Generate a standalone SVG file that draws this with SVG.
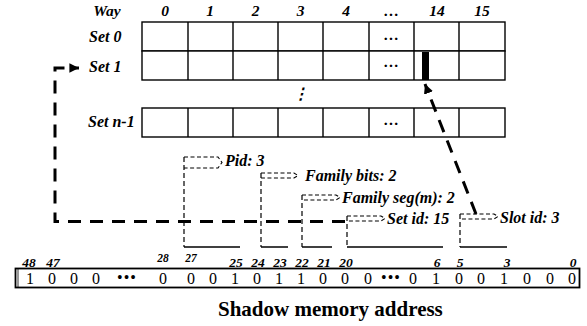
<svg xmlns="http://www.w3.org/2000/svg" width="587" height="326" viewBox="0 0 587 326">
<defs>
<style>
.t{font-family:"Liberation Serif","Times New Roman",serif;font-weight:bold;font-style:italic;fill:#000}
.hd{font-size:15.5px;text-anchor:middle}
.sl{font-size:16px}
.fl{font-size:16px}
.bn{font-size:13.5px;text-anchor:middle}
.bs{font-size:11.5px;text-anchor:middle}
.bit{font-family:"Liberation Serif","Times New Roman",serif;font-size:16px;text-anchor:middle;fill:#000}
.cell{fill:#fff;stroke:#000;stroke-width:1.4}
.grid{stroke:#000;stroke-width:1.4}
.thin{fill:none;stroke:#000;stroke-width:1.1;stroke-dasharray:4 2.5}
.vd{fill:none;stroke:#000;stroke-width:1.2;stroke-dasharray:5 3}
.solid{fill:none;stroke:#000;stroke-width:1.5}
.big{fill:none;stroke:#000;stroke-width:3;stroke-dasharray:13 9}
</style>
<marker id="ah" viewBox="0 0 10 10" refX="10" refY="5" markerWidth="3.2" markerHeight="3.2" orient="auto" markerUnits="strokeWidth">
<path d="M0,0 L10,5 L0,10 z" fill="#000"/>
</marker>
</defs>

<g id="way-header">
<text class="t hd" x="107" y="16">Way</text>
<text class="t hd" x="165" y="16">0</text>
<text class="t hd" x="210" y="16">1</text>
<text class="t hd" x="255.5" y="16">2</text>
<text class="t hd" x="300.5" y="16">3</text>
<text class="t hd" x="346" y="16">4</text>
<text class="t hd" x="391.5" y="16">…</text>
<text class="t hd" x="437" y="16">14</text>
<text class="t hd" x="482" y="16">15</text>
</g>

<g id="set-0">
<text class="t sl" x="89" y="42">Set 0</text>
<rect class="cell" x="142" y="22" width="363" height="29"/>
<path class="grid" d="M188,22V51M233,22V51M278,22V51M323,22V51M369,22V51M414,22V51M459,22V51"/>
<text class="t hd" x="391.5" y="40" font-style="normal">…</text>
</g>

<g id="set-1">
<text class="t sl" x="89" y="72">Set 1</text>
<rect class="cell" x="142" y="51" width="363" height="29"/>
<path class="grid" d="M188,51V80M233,51V80M278,51V80M323,51V80M369,51V80M414,51V80M459,51V80"/>
<text class="t hd" x="391.5" y="67" font-style="normal">…</text>
<rect id="slot" x="422" y="52" width="7" height="28" fill="#000"/>
</g>

<g id="vdots">
<text class="t hd" x="300.5" y="99" font-style="normal" font-family="DejaVu Serif" font-size="13">⋮</text>
</g>

<g id="set-n-1">
<text class="t sl" x="88" y="127">Set n-1</text>
<rect class="cell" x="142" y="108" width="363" height="29"/>
<path class="grid" d="M188,108V137M233,108V137M278,108V137M323,108V137M369,108V137M414,108V137M459,108V137"/>
<text class="t hd" x="391.5" y="125" font-style="normal">…</text>
</g>

<g id="connectors">
<path class="big" d="M345,221.5 H55 V68 H79" marker-end="url(#ah)"/>
<path class="big" d="M476,214 L425,84" marker-end="url(#ah)"/>
</g>

<g id="field-pid">
<path class="vd" d="M184,157V247"/>
<path class="thin" d="M184,157H218L222,162.5L218,168H184"/>
<path class="solid" d="M184,247H240"/>
<text class="t fl" x="225" y="166">Pid: 3</text>
</g>

<g id="field-family-bits">
<path class="vd" d="M261,173V247"/>
<path class="thin" d="M261,173H294L298,175.5L294,178H261"/>
<path class="solid" d="M261,247H288"/>
<text class="t fl" x="305" y="181">Family bits: 2</text>
</g>

<g id="field-family-seg">
<path class="vd" d="M302,195V247"/>
<path class="thin" d="M302,195H336L340,197.5L336,200H302"/>
<path class="solid" d="M302,247H332"/>
<text class="t fl" x="342" y="203">Family seg(m): 2</text>
</g>

<g id="field-set-id">
<path class="vd" d="M347,216V247"/>
<path class="thin" d="M347,216H381L385,218.5L381,221H347"/>
<path class="solid" d="M347,247H443"/>
<text class="t fl" x="387" y="224">Set id: 15</text>
</g>

<g id="field-slot-id">
<path class="vd" d="M460,214V247"/>
<path class="thin" d="M460,214H494L498,216.5L494,219H460"/>
<path class="solid" d="M460,247H507"/>
<text class="t fl" x="500" y="223">Slot id: 3</text>
</g>

<g id="address">
<text class="t bn" x="29" y="267">48</text>
<text class="t bn" x="53" y="267">47</text>
<text class="t bs" x="163" y="262">28</text>
<text class="t bs" x="191" y="262">27</text>
<text class="t bn" x="236" y="267">25</text>
<text class="t bn" x="258" y="267">24</text>
<text class="t bn" x="280" y="267">23</text>
<text class="t bn" x="302" y="267">22</text>
<text class="t bn" x="324" y="267">21</text>
<text class="t bn" x="346" y="267">20</text>
<text class="t bn" x="437" y="267">6</text>
<text class="t bn" x="460" y="267">5</text>
<text class="t bn" x="507" y="267">3</text>
<text class="t bn" x="573" y="267">0</text>
<rect x="15.5" y="268.5" width="564" height="19" fill="none" stroke="#000" stroke-width="1.8"/>
<path d="M18,269V287" stroke="#000" stroke-width="0.8"/>
<text class="bit" x="30" y="283.5">1</text>
<text class="bit" x="52" y="283.5">0</text>
<text class="bit" x="74" y="283.5">0</text>
<text class="bit" x="96" y="283.5">0</text>
<text class="bit" x="127" y="283" font-size="9" letter-spacing="1">•••</text>
<text class="bit" x="163" y="283.5">0</text>
<text class="bit" x="191" y="283.5">0</text>
<text class="bit" x="213" y="283.5">0</text>
<text class="bit" x="235" y="283.5">1</text>
<text class="bit" x="257" y="283.5">0</text>
<text class="bit" x="279" y="283.5">1</text>
<text class="bit" x="301" y="283.5">1</text>
<text class="bit" x="323" y="283.5">0</text>
<text class="bit" x="345" y="283.5">0</text>
<text class="bit" x="368" y="283.5">0</text>
<text class="bit" x="391" y="283" font-size="9" letter-spacing="1">•••</text>
<text class="bit" x="413" y="283.5">0</text>
<text class="bit" x="436" y="283.5">1</text>
<text class="bit" x="459" y="283.5">0</text>
<text class="bit" x="481" y="283.5">0</text>
<text class="bit" x="504" y="283.5">1</text>
<text class="bit" x="527" y="283.5">0</text>
<text class="bit" x="550" y="283.5">0</text>
<text class="bit" x="572" y="283.5">0</text>
</g>

<g id="caption">
<text x="218" y="316" font-family="'Liberation Serif','Times New Roman',serif" font-weight="bold" font-size="21">Shadow memory address</text>
</g>
</svg>
